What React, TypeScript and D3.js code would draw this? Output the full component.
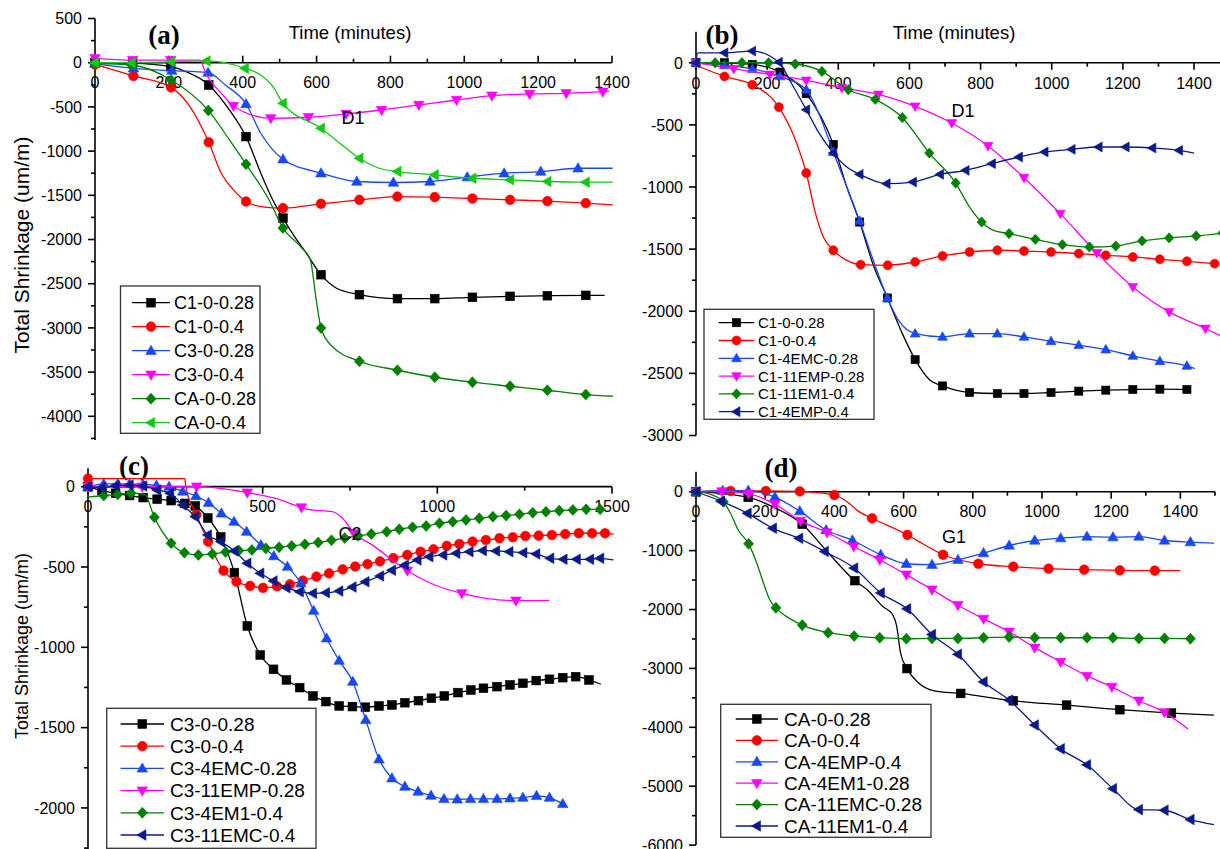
import React from 'react';
import * as d3 from 'd3';

type Pt = number[]; // [time, shrinkage, marker?]  marker flag 0 = no marker

// ---------------- Panel (a) ----------------
const A_C1_0_028: Pt[] = [[0,0],[102,-5],[205,-45],[246,-100,0],[308,-252],[364,-535,0],[409,-836],[449,-1250,0],[481,-1551,0],[509,-1758],[540,-1965,0],[572,-2153,0],[612,-2398],[653,-2549,0],[716,-2624],[819,-2669],[920,-2669],[1022,-2654],[1124,-2643],[1225,-2636],[1329,-2632],[1380,-2632,0]];
const A_C1_0_04: Pt[] = [[0,-20],[104,-150],[206,-279],[257,-497,0],[308,-900],[342,-1250,0],[375,-1438,0],[409,-1570],[449,-1627,0],[509,-1645],[612,-1596],[716,-1551],[819,-1514],[920,-1521],[1022,-1536],[1124,-1551],[1225,-1566],[1329,-1589],[1402,-1608,0]];
const A_C3_0_028: Pt[] = [[0,-10],[104,-64],[208,-90],[306,-113],[353,-252,0],[409,-467],[449,-798,0],[509,-1092],[612,-1250],[709,-1344],[808,-1355],[907,-1344],[1008,-1295],[1108,-1250],[1207,-1231],[1308,-1194],[1402,-1194,0]];
const A_C3_0_04: Pt[] = [[0,50],[102,30],[205,30],[284,30,0],[300,-120,0],[343,-350,0],[375,-489],[476,-629],[578,-617],[680,-580],[776,-535],[877,-478],[979,-422],[1075,-373],[1177,-354],[1276,-346],[1375,-328],[1392,-325,0]];
const A_CA_0_028: Pt[] = [[0,-10],[99,-26],[206,-196],[307,-540],[364,-873,0],[409,-1148],[471,-1551,0],[509,-1871],[556,-2078,0],[583,-2229,0],[599,-2681,0],[612,-3001],[642,-3208,0],[716,-3377],[819,-3479],[920,-3558],[1022,-3614],[1124,-3660],[1225,-3705],[1329,-3754],[1402,-3773,0]];
const A_CA_0_04: Pt[] = [[0,0],[99,0],[206,10],[302,20],[406,-64],[449,-139,0],[482,-271,0],[509,-459],[612,-742],[674,-949,0],[716,-1081],[770,-1194,0],[819,-1231],[920,-1269],[1022,-1307],[1124,-1325],[1225,-1344],[1329,-1352],[1402,-1352,0]];
const A_NAMES = ['C1-0-0.28','C1-0-0.4','C3-0-0.28','C3-0-0.4','CA-0-0.28','CA-0-0.4'];
const A_Y_MAJOR = [500,0,-500,-1000,-1500,-2000,-2500,-3000,-3500,-4000];
const A_X_MAJOR = [0,200,400,600,800,1000,1200,1400];

// ---------------- Panel (b) ----------------
const B_C1_0_028: Pt[] = [[0,0],[80,0],[158,-13],[236,-75],[310,-249],[386,-657],[424,-1000,0],[460,-1282],[497,-1617,0],[538,-1893],[580,-2180,0],[616,-2389],[658,-2555,0],[693,-2601],[769,-2654],[847,-2662],[922,-2662],[998,-2654],[1076,-2643],[1152,-2635],[1228,-2630],[1304,-2627],[1380,-2630]];
const B_C1_0_04: Pt[] = [[0,-20,0],[80,-110],[158,-177],[233,-357],[280,-625,0],[310,-887],[336,-1214,0],[358,-1402,0],[386,-1509],[424,-1590,0],[463,-1625],[539,-1630],[616,-1603],[693,-1555],[769,-1523],[847,-1509],[922,-1515],[998,-1523],[1076,-1536],[1152,-1550],[1228,-1563],[1304,-1582],[1380,-1598],[1458,-1617]];
const B_C1_4EMC_028: Pt[] = [[0,0],[80,-20],[158,-50],[236,-110],[310,-217],[347,-420,0],[386,-718],[424,-1000,0],[460,-1273],[497,-1580,0],[538,-1893],[569,-2072,0],[616,-2180],[693,-2206],[769,-2180],[847,-2180],[922,-2206],[998,-2241],[1076,-2273],[1152,-2308],[1228,-2359],[1304,-2402],[1380,-2440],[1402,-2461,0]];
const B_C1_11EMP_028: Pt[] = [[0,0],[106,-48],[208,-94],[310,-142],[410,-201],[513,-255],[616,-351],[719,-485],[821,-670],[922,-925],[1024,-1214],[1127,-1531],[1228,-1804],[1330,-2005],[1432,-2139],[1500,-2233,0]];
const B_C1_11EM1_04: Pt[] = [[0,0,0],[54,0],[129,0],[204,0],[279,-10],[354,-70],[428,-217],[504,-295],[580,-442],[656,-727],[730,-968],[769,-1161,0],[803,-1282],[836,-1349,0],[880,-1375],[954,-1421],[1030,-1464],[1106,-1483],[1180,-1475],[1254,-1434],[1330,-1410],[1406,-1394],[1480,-1370]];
const B_C1_4EMP_04: Pt[] = [[0,0],[5,80,0],[80,80],[158,94],[233,5],[269,-169,0],[310,-378],[347,-571,0],[386,-727],[424,-839,0],[460,-898],[536,-973],[610,-960],[686,-898],[758,-866],[832,-812],[908,-759],[980,-718],[1056,-697],[1132,-678],[1208,-678],[1283,-686],[1358,-705],[1400,-727,0]];
const B_NAMES = ['C1-0-0.28','C1-0-0.4','C1-4EMC-0.28','C1-11EMP-0.28','C1-11EM1-0.4','C1-4EMP-0.4'];
const B_Y_MAJOR = [0,-500,-1000,-1500,-2000,-2500,-3000];
const B_X_MAJOR = [0,200,400,600,800,1000,1200,1400];

// ---------------- Panel (c) ----------------
const C_C3_0_028: Pt[] = [[0,0],[40,-25],[79,-41],[119,-55],[158,-68],[198,-78],[238,-87],[277,-104],[307,-120],[343,-195],[380,-313],[419,-535],[456,-867],[493,-1048],[531,-1137],[568,-1203],[606,-1251],[644,-1303],[681,-1338],[719,-1365],[757,-1369],[794,-1373],[833,-1365],[870,-1359],[907,-1345],[946,-1332],[983,-1317],[1020,-1303],[1059,-1282],[1096,-1266],[1132,-1255],[1171,-1245],[1208,-1234],[1245,-1224],[1283,-1207],[1321,-1199],[1359,-1189],[1396,-1183],[1434,-1203],[1468,-1230,0]];
const C_C3_0_04: Pt[] = [[0,50],[277,50,0],[280,0,0],[310,-175],[344,-342],[388,-523],[425,-591],[464,-618],[501,-630],[541,-620],[578,-608],[615,-585],[654,-560],[690,-540],[729,-515],[765,-497],[800,-482],[836,-465],[874,-445],[914,-425],[952,-405],[989,-390],[1027,-369],[1063,-357],[1101,-342],[1139,-332],[1178,-321],[1216,-315],[1252,-307],[1290,-305],[1328,-301],[1366,-295],[1405,-290],[1443,-290],[1480,-290],[1504,-295,0]];
const C_C3_4EMC_028: Pt[] = [[0,0],[45,18],[85,18],[119,16],[158,14],[196,8],[232,0],[271,-30],[309,-58],[345,-100],[382,-166],[418,-218],[454,-280],[495,-363],[532,-432],[571,-498],[609,-602],[646,-772],[683,-944],[719,-1083],[758,-1214],[795,-1452],[833,-1697],[870,-1815],[907,-1867],[945,-1898],[982,-1923],[1019,-1944],[1057,-1946],[1095,-1944],[1132,-1944],[1171,-1944],[1208,-1940],[1245,-1936],[1284,-1925],[1321,-1936],[1359,-1975]];
const C_C3_11EMP_028: Pt[] = [[0,0],[155,0],[311,0],[456,-37],[540,-75,0],[611,-129],[631,-141,0],[699,-156,0],[733,-207,0],[761,-290],[807,-353,0],[914,-523],[993,-612,0],[1070,-664],[1225,-710],[1321,-708,0]];
const C_C3_4EM1_04: Pt[] = [[0,-65,0],[45,-55],[85,-48],[123,-41],[163,-50,0],[190,-191],[238,-352],[276,-411],[316,-425],[356,-419],[394,-407],[432,-398],[469,-394],[509,-384],[547,-377],[583,-369],[621,-358],[659,-347],[697,-334],[735,-320],[773,-306],[811,-295],[855,-280],[891,-265],[929,-253],[968,-245],[1006,-228],[1044,-218],[1082,-207],[1120,-197],[1159,-187],[1197,-180],[1235,-172],[1273,-162],[1311,-156],[1349,-149],[1388,-145],[1426,-141],[1466,-141]];
const C_C3_11EMC_04: Pt[] = [[0,0],[40,-6],[79,6],[119,10],[158,4],[198,-21],[235,-41],[271,-114],[307,-187],[343,-301],[380,-342],[419,-400],[456,-477],[493,-539],[531,-587],[568,-629],[606,-654],[644,-664],[681,-660],[719,-650],[757,-625],[794,-592],[836,-556],[870,-520],[907,-488],[943,-456],[977,-436],[1017,-425],[1054,-415],[1092,-405],[1130,-398],[1168,-400],[1206,-405],[1246,-411],[1283,-419],[1323,-446],[1361,-452],[1399,-452],[1437,-452],[1466,-446],[1504,-456,0]];
const C_NAMES = ['C3-0-0.28','C3-0-0.4','C3-4EMC-0.28','C3-11EMP-0.28','C3-4EM1-0.4','C3-11EMC-0.4'];
const C_Y_MAJOR = [0,-500,-1000,-1500,-2000];
const C_X_MAJOR = [0,500,1000,1500];

// ---------------- Panel (d) ----------------
const D_CA_0_028: Pt[] = [[0,0],[151,-96],[220,-250,0],[307,-552],[379,-1014,0],[459,-1510],[494,-1662,0],[539,-1944,0],[568,-2085,0],[580,-2282,0],[591,-2732,0],[610,-3003],[642,-3239,0],[688,-3380,0],[765,-3425],[917,-3549],[1071,-3623],[1225,-3701],[1374,-3758],[1497,-3792,0]];
const D_CA_0_04: Pt[] = [[0,0],[100,12],[202,12],[300,5],[400,-56],[437,-169,0],[471,-338,0],[509,-451],[611,-732],[660,-900,0],[714,-1070],[816,-1223],[917,-1273],[1019,-1307],[1122,-1324],[1225,-1335],[1326,-1341],[1400,-1341,0]];
const D_CA_4EMP_04: Pt[] = [[0,0],[77,17],[151,20],[228,-90],[300,-330],[376,-650],[452,-825],[534,-1070],[608,-1223],[682,-1239],[757,-1155],[831,-1042],[905,-913],[979,-828],[1054,-789],[1130,-761],[1205,-772],[1280,-761],[1354,-828],[1429,-856],[1497,-873,0]];
const D_CA_4EM1_028: Pt[] = [[0,0],[75,5],[152,-35],[228,-210],[302,-495],[379,-693],[456,-930],[531,-1155],[608,-1408],[682,-1662],[757,-1927],[831,-2158],[905,-2377],[979,-2648],[1054,-2890],[1130,-3127],[1202,-3313],[1280,-3549],[1354,-3746],[1422,-4028,0]];
const D_CA_11EMC_028: Pt[] = [[0,0],[40,-40,0],[79,-170],[100,-370,0],[122,-650,0],[152,-885],[175,-1200,0],[195,-1550,0],[212,-1820,0],[231,-1972],[270,-2150,0],[307,-2265],[382,-2394],[457,-2451],[531,-2479],[608,-2496],[682,-2490],[757,-2490],[831,-2479],[905,-2468],[979,-2479],[1054,-2479],[1130,-2479],[1205,-2479],[1280,-2490],[1354,-2490],[1429,-2496]];
const D_CA_11EM1_04: Pt[] = [[0,0],[72,-160],[149,-367],[222,-621],[298,-791],[372,-1015],[457,-1296],[534,-1718],[610,-1989],[682,-2423],[757,-2761],[831,-3228],[905,-3538],[979,-3961],[1054,-4366],[1130,-4637],[1205,-5042],[1280,-5397],[1354,-5408],[1429,-5566],[1497,-5651,0]];
const D_NAMES = ['CA-0-0.28','CA-0-0.4','CA-4EMP-0.4','CA-4EM1-0.28','CA-11EMC-0.28','CA-11EM1-0.4'];
const D_Y_MAJOR = [0,-1000,-2000,-3000,-4000,-5000,-6000];
const D_X_MAJOR = [0,200,400,600,800,1000,1200,1400];

const FONT = '"Liberation Sans", Arial, Helvetica, sans-serif';
const SERIF = '"Liberation Serif", "Times New Roman", serif';

const BLACK = '#000000';
const RED = '#ff0000';
const BLUE = '#1a48f0';
const MAGENTA = '#ff00ff';
const GREEN = '#008000';
const LIME = '#14c814';
const NAVY = '#0a1a8a';

type Shape = 'square' | 'circle' | 'up' | 'down' | 'diamond' | 'left';

function Marker({ shape, x, y, color, s }: { shape: Shape; x: number; y: number; color: string; s: number }) {
  const t = `translate(${x},${y})`;
  const common = { fill: color, stroke: color, strokeWidth: 0.6 };
  switch (shape) {
    case 'square':
      return <rect x={x - s * 0.95} y={y - s * 0.95} width={s * 1.9} height={s * 1.9} {...common} />;
    case 'circle':
      return <circle cx={x} cy={y} r={s * 1.05} {...common} />;
    case 'up':
      return <path transform={t} d={`M0,${-s * 1.2}L${s * 1.15},${s * 0.8}L${-s * 1.15},${s * 0.8}Z`} {...common} />;
    case 'down':
      return <path transform={t} d={`M0,${s * 1.2}L${s * 1.15},${-s * 0.8}L${-s * 1.15},${-s * 0.8}Z`} {...common} />;
    case 'diamond':
      return <path transform={t} d={`M0,${-s * 1.2}L${s * 1.1},0L0,${s * 1.2}L${-s * 1.1},0Z`} {...common} />;
    case 'left':
      return <path transform={t} d={`M${-s * 1.2},0L${s * 0.8},${-s * 1.15}L${s * 0.8},${s * 1.15}Z`} {...common} />;
  }
  return null;
}

interface Series { name: string; data: Pt[]; color: string; shape: Shape }
interface Panel {
  key: string;
  x: d3.ScaleLinear<number, number>;
  y: d3.ScaleLinear<number, number>;
  xMajor: number[]; xMinorStep: number; xEnd: number; tickDir: number;
  yMajor: number[]; yMinorStep: number; yTop: number; yBottom: number;
  series: Series[];
  ms: number;
  legend: { bx: number; by: number; bw: number; bh: number; lx0: number; lx1: number; tx: number; y0: number; dy: number; fs: number };
  tag: { text: string; x: number; y: number };
  note: { text: string; x: number; y: number };
  time: { x: number; y: number } | null;
  ylab: { x: number; y: number; fs: number } | null;
}

function mk(names: string[], datas: Pt[][], colors: string[], shapes: Shape[]): Series[] {
  return names.map((n, i) => ({ name: n, data: datas[i], color: colors[i], shape: shapes[i] }));
}
const SHAPES: Shape[] = ['square', 'circle', 'up', 'down', 'diamond', 'left'];

const panels: Panel[] = [
  {
    key: 'a',
    x: d3.scaleLinear().domain([0, 1400]).range([95, 612]),
    y: d3.scaleLinear().domain([500, -4268]).range([18.5, 440]),
    xMajor: A_X_MAJOR, xMinorStep: 100, xEnd: 1400, tickDir: -1,
    yMajor: A_Y_MAJOR, yMinorStep: 250, yTop: 500, yBottom: -4268,
    series: mk(A_NAMES, [A_C1_0_028, A_C1_0_04, A_C3_0_028, A_C3_0_04, A_CA_0_028, A_CA_0_04], [BLACK, RED, BLUE, MAGENTA, GREEN, LIME], SHAPES),
    ms: 4.6,
    legend: { bx: 120.5, by: 286, bw: 139.5, bh: 147.3, lx0: 132, lx1: 170, tx: 174, y0: 302.7, dy: 24, fs: 18 },
    tag: { text: '(a)', x: 164, y: 35 },
    note: { text: 'D1', x: 353, y: 118 },
    time: { x: 350, y: 33 },
    ylab: { x: 22, y: 245, fs: 21 },
  },
  {
    key: 'b',
    x: d3.scaleLinear().domain([0, 1500]).range([696, 1229.6]),
    y: d3.scaleLinear().domain([250, -3000]).range([31.7, 435.5]),
    xMajor: B_X_MAJOR, xMinorStep: 100, xEnd: 1500, tickDir: 1,
    yMajor: B_Y_MAJOR, yMinorStep: 250, yTop: 250, yBottom: -3000,
    series: mk(B_NAMES, [B_C1_0_028, B_C1_0_04, B_C1_4EMC_028, B_C1_11EMP_028, B_C1_11EM1_04, B_C1_4EMP_04], [BLACK, RED, BLUE, MAGENTA, GREEN, NAVY], SHAPES),
    ms: 4.3,
    legend: { bx: 704, by: 309.3, bw: 170, bh: 110, lx0: 718.7, lx1: 754.3, tx: 758, y0: 322.7, dy: 17.8, fs: 15 },
    tag: { text: '(b)', x: 722, y: 35 },
    note: { text: 'D1', x: 963, y: 111 },
    time: { x: 954, y: 33 },
    ylab: null,
  },
  {
    key: 'c',
    x: d3.scaleLinear().domain([0, 1500]).range([88, 612]),
    y: d3.scaleLinear().domain([115, -2260]).range([468.2, 849.7]),
    xMajor: C_X_MAJOR, xMinorStep: 250, xEnd: 1500, tickDir: 1,
    yMajor: C_Y_MAJOR, yMinorStep: 250, yTop: 115, yBottom: -2260,
    series: mk(C_NAMES, [C_C3_0_028, C_C3_0_04, C_C3_4EMC_028, C_C3_11EMP_028, C_C3_4EM1_04, C_C3_11EMC_04], [BLACK, RED, BLUE, MAGENTA, GREEN, NAVY], SHAPES),
    ms: 4.6,
    legend: { bx: 106.7, by: 708.3, bw: 209.3, bh: 140, lx0: 120.6, lx1: 164, tx: 170, y0: 724, dy: 22.2, fs: 19 },
    tag: { text: '(c)', x: 134, y: 466 },
    note: { text: 'C2', x: 350, y: 534 },
    time: null,
    ylab: { x: 22, y: 646, fs: 18 },
  },
  {
    key: 'd',
    x: d3.scaleLinear().domain([0, 1500]).range([696, 1215]),
    y: d3.scaleLinear().domain([340, -6000]).range([471.7, 845.1]),
    xMajor: D_X_MAJOR, xMinorStep: 100, xEnd: 1500, tickDir: 1,
    yMajor: D_Y_MAJOR, yMinorStep: 500, yTop: 340, yBottom: -6000,
    series: mk(D_NAMES, [D_CA_0_028, D_CA_0_04, D_CA_4EMP_04, D_CA_4EM1_028, D_CA_11EMC_028, D_CA_11EM1_04], [BLACK, RED, BLUE, MAGENTA, GREEN, NAVY], SHAPES),
    ms: 4.6,
    legend: { bx: 720.7, by: 704.3, bw: 210.3, bh: 133, lx0: 735.7, lx1: 778, tx: 784, y0: 719, dy: 21.4, fs: 19 },
    tag: { text: '(d)', x: 781, y: 468 },
    note: { text: 'G1', x: 954, y: 537 },
    time: null,
    ylab: null,
  },
];

function PanelView({ p }: { p: Panel }) {
  const { x, y } = p;
  const x0 = x(0);
  const y0 = y(0);
  const ax = 1.6;
  const xMinor = d3.range(0, p.xEnd + 1, p.xMinorStep).filter((v) => !p.xMajor.includes(v));
  const yMinor = d3.range(Math.floor(p.yTop / p.yMinorStep) * p.yMinorStep, p.yBottom - 1, -p.yMinorStep)
    .filter((v) => !p.yMajor.includes(v) && v < p.yTop && v > p.yBottom);
  const line = d3.line<Pt>().x((d) => x(d[0])).y((d) => y(d[1])).curve(d3.curveMonotoneX);
  const L = p.legend;
  return (
    <g>
      {/* y axis */}
      <line x1={x0} x2={x0} y1={y(p.yTop)} y2={y(p.yBottom)} stroke="#000" strokeWidth={ax} />
      {p.yMajor.map((v) => (
        <g key={'ym' + v}>
          <line x1={x0 - 7} x2={x0} y1={y(v)} y2={y(v)} stroke="#000" strokeWidth={ax} />
          <text x={x0 - 13} y={y(v)} dy="0.36em" textAnchor="end" fontFamily={FONT} fontSize={16}>{v}</text>
        </g>
      ))}
      {yMinor.map((v) => (
        <line key={'yn' + v} x1={x0 - 4} x2={x0} y1={y(v)} y2={y(v)} stroke="#000" strokeWidth={ax} />
      ))}
      {/* x axis along zero line */}
      <line x1={x0} x2={x(p.xEnd)} y1={y0} y2={y0} stroke="#000" strokeWidth={ax} />
      {p.xMajor.map((v) => (
        <g key={'xm' + v}>
          <line x1={x(v)} x2={x(v)} y1={y0} y2={y0 + 7 * p.tickDir} stroke="#000" strokeWidth={ax} />
          <text x={x(v)} y={y0 + 20} dy="0.36em" textAnchor="middle" fontFamily={FONT} fontSize={16}>{v}</text>
        </g>
      ))}
      {xMinor.map((v) => (
        <line key={'xn' + v} x1={x(v)} x2={x(v)} y1={y0} y2={y0 + 4 * p.tickDir} stroke="#000" strokeWidth={ax} />
      ))}
      {/* texts */}
      <text x={p.tag.x} y={p.tag.y} dy="0.35em" textAnchor="middle" fontFamily={SERIF} fontWeight="bold" fontSize={27}>{p.tag.text}</text>
      {p.time && (
        <text x={p.time.x} y={p.time.y} dy="0.35em" textAnchor="middle" fontFamily={FONT} fontSize={18.5}>Time (minutes)</text>
      )}
      {p.ylab && (
        <text transform={`translate(${p.ylab.x},${p.ylab.y}) rotate(-90)`} dy="0.35em" textAnchor="middle" fontFamily={FONT} fontSize={p.ylab.fs}>Total Shrinkage (um/m)</text>
      )}
      {/* series */}
      {p.series.map((s) => (
        <g key={s.name}>
          <path d={line(s.data) || ''} fill="none" stroke={s.color} strokeWidth={1.3} />
          {s.data.filter((d) => d.length < 3 || d[2] !== 0).map((d, i) => (
            <Marker key={i} shape={s.shape} x={x(d[0])} y={y(d[1])} color={s.color} s={p.ms} />
          ))}
        </g>
      ))}
      <text x={p.note.x} y={p.note.y} dy="0.35em" textAnchor="middle" fontFamily={FONT} fontSize={18}>{p.note.text}</text>
      {/* legend */}
      <rect x={L.bx} y={L.by} width={L.bw} height={L.bh} fill="#fff" stroke="#333" strokeWidth={1.3} />
      {p.series.map((s, i) => {
        const ly = L.y0 + i * L.dy;
        return (
          <g key={'lg' + s.name}>
            <line x1={L.lx0} x2={L.lx1} y1={ly} y2={ly} stroke={s.color} strokeWidth={1.3} />
            <Marker shape={s.shape} x={(L.lx0 + L.lx1) / 2} y={ly} color={s.color} s={p.ms} />
            <text x={L.tx} y={ly} dy="0.36em" fontFamily={FONT} fontSize={L.fs}>{s.name}</text>
          </g>
        );
      })}
    </g>
  );
}

export default function App() {
  return (
    <svg width={1220} height={849} viewBox="0 0 1220 849" style={{ position: 'absolute', left: 0, top: 0, background: '#fff' }}>
      <rect x={0} y={0} width={1220} height={849} fill="#fff" />
      {panels.map((p) => (
        <PanelView key={p.key} p={p} />
      ))}
    </svg>
  );
}
